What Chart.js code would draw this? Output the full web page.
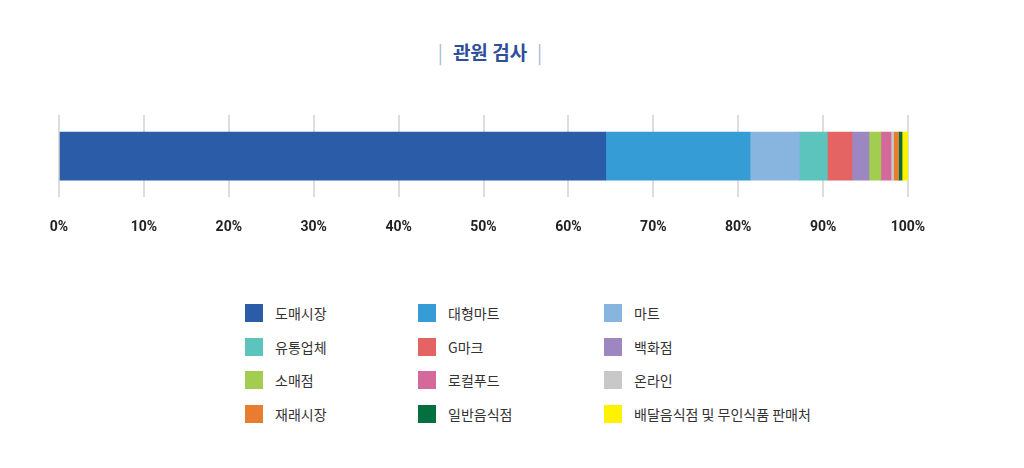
<!DOCTYPE html>
<html><head><meta charset="utf-8">
<script src="https://cdn.jsdelivr.net/npm/chart.js@4/dist/chart.umd.min.js"></script>
<style>
body{margin:0;width:1024px;height:468px;background:#fff;font-family:"Noto Sans CJK KR","Noto Sans",sans-serif;position:relative;overflow:hidden}
#title{position:absolute;top:38px;left:0;width:980px;text-align:center;font-size:19px;font-weight:bold;color:#2e4f9a}
#title span{color:#a9b6d3;font-weight:normal;margin:0 10px}
#wrap{position:absolute;top:108px;left:0;width:1024px;height:150px}
#legend{position:absolute;top:303px;left:245px}
.item{position:absolute;display:flex;align-items:center;font-size:14px;color:#333;white-space:nowrap}
.item i{display:inline-block;width:18px;height:18px;margin-right:12px}
</style></head><body>
<div id="title"><span>|</span>관원 검사<span>|</span></div>
<div id="wrap"><canvas id="c"></canvas></div>
<div id="legend"></div>
<script>
const categories = ['도매시장','대형마트','마트','유통업체','G마크','백화점','소매점','로컬푸드','온라인','재래시장','일반음식점','배달음식점 및 무인식품 판매처'];
const values = [64.4, 17.0, 5.8, 3.3, 2.9, 2.0, 1.4, 1.2, 0.3, 0.6, 0.4, 0.7];
const colors = ['#2a5ca8','#359cd6','#88b5e0','#5cc4bd','#e46363','#9c87c0','#a2cd50','#d46a9c','#c8c8c8','#e87d30','#066f40','#fff200'];
const legendOrder = [0,1,2,3,4,5,6,7,8,9,10,11];

const lg = document.getElementById('legend');
const colX = [0, 173, 359];
legendOrder.forEach((k, i) => {
  const d = document.createElement('div');
  d.className = 'item';
  d.style.left = colX[i % 3] + 'px';
  d.style.top = Math.floor(i / 3) * 33.7 + 'px';
  d.innerHTML = `<i style="background:${colors[k]}"></i>${categories[k]}`;
  lg.appendChild(d);
});

new Chart(document.getElementById('c'), {
  type: 'bar',
  data: {
    labels: [''],
    datasets: categories.map((name, i) => ({
      label: name, data: [values[i]], backgroundColor: colors[i],
      barThickness: 48, borderWidth: 0
    }))
  },
  options: {
    indexAxis: 'y', responsive: true, maintainAspectRatio: false, animation: false,
    layout: { padding: { left: 59, right: 116, top: 7, bottom: 0 } },
    plugins: { legend: { display: false }, tooltip: { enabled: false } },
    scales: {
      x: {
        stacked: true, min: 0, max: 100,
        ticks: { stepSize: 10, callback: v => v + '%', color: '#222', padding: 22,
                 font: { size: 14, weight: 'bold', family: 'Roboto' } },
        grid: { color: '#dddddd', lineWidth: 2, drawTicks: false },
        border: { display: false }
      },
      y: { stacked: true, display: false }
    }
  }
});
</script>
</body></html>
